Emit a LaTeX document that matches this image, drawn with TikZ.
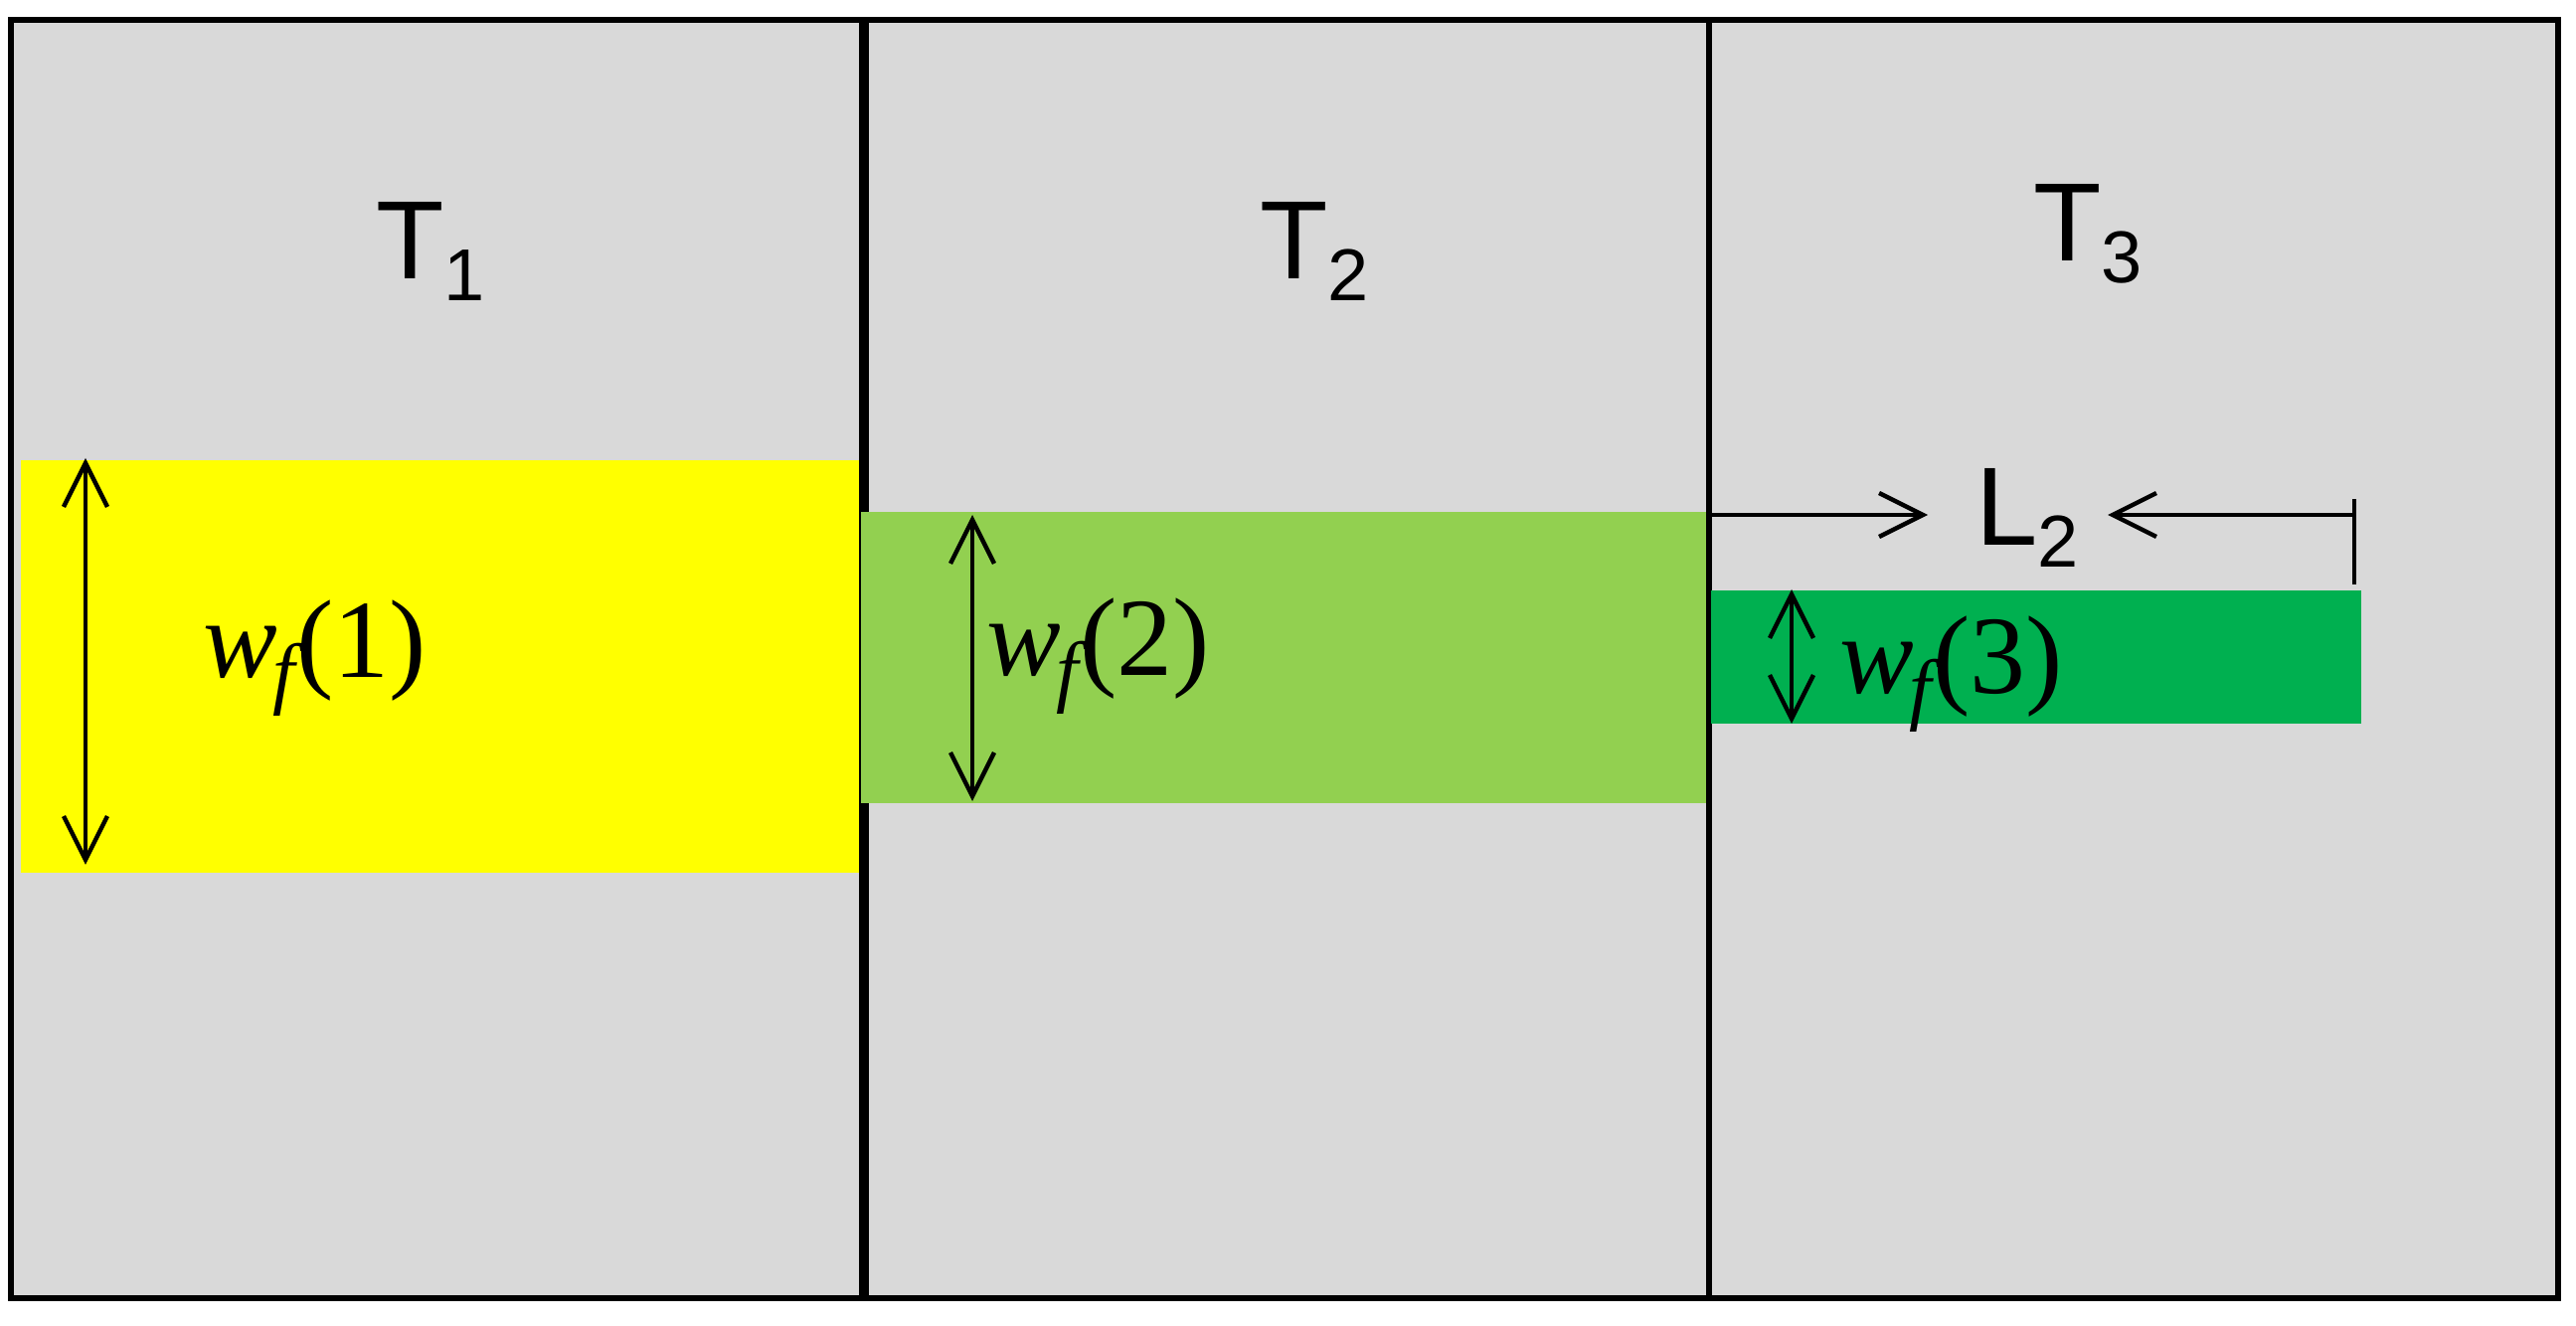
\documentclass[tikz,border=0pt]{standalone}
\usepackage{fontspec}
\setmainfont{Liberation Serif}
\setsansfont{Liberation Sans}
\usetikzlibrary{arrows.meta}

\definecolor{cellgray}{HTML}{D9D9D9}
\definecolor{bandyellow}{HTML}{FFFF00}
\definecolor{bandlight}{HTML}{92D050}
\definecolor{banddark}{HTML}{00B050}

\newcommand{\tlabel}[2]{{\fontsize{28}{30}\selectfont\sffamily #1\raisebox{-5.5pt}{\fontsize{18.5}{20}\selectfont #2}}}
\newcommand{\wflabel}[1]{{\fontsize{28}{30}\selectfont\textit{w}\kern-1pt\raisebox{-5.5pt}{\fontsize{20}{22}\selectfont\textit{f}}\kern-2pt(#1)}}

\tikzset{
  every picture/.style={line width=1.1pt},
  dimarrow/.style={-{Straight Barb[length=11pt,width=11pt]}},
  dimboth/.style={{Straight Barb[length=11pt,width=11pt]}-{Straight Barb[length=11pt,width=11pt]}},
  txt/.style={anchor=base west,inner sep=0pt}
}

\begin{document}
\begin{tikzpicture}[x=0.25pt,y=0.25pt,yscale=-1,xscale=1]
    \useasboundingbox (0,0) rectangle (2591,1334);

    %Shape: Rectangle (cells)
    \fill [cellgray] (11,20) rectangle (2573,1306);
    %Straight Lines (dividers)
    \draw [line width=2.7pt] (869,20) -- (869,1306);
    \draw [line width=1.3pt] (1719,20) -- (1719,1306);

    %Shape: Rectangle (bands)
    \fill [bandyellow] (21,463) rectangle (864,878);
    \fill [bandlight] (866,515) rectangle (1716,808);
    \fill [banddark] (1721,594) rectangle (2375,728);

    %Shape: Rectangle (frame)
    \draw [line width=1.6pt] (11,20) rectangle (2573,1306);

    % Text Node
    \node [txt] (t1) at (376,281) {\tlabel{T}{1}};
    % Text Node
    \node [txt] (t2) at (1265,281) {\tlabel{T}{2}};
    % Text Node
    \node [txt] (t3) at (2043,263) {\tlabel{T}{3}};
    % Text Node
    \node [txt] (l2) at (1985,549) {\tlabel{L}{2}};

    % Text Node
    \node [txt] (wf1) at (202,682) {\wflabel{1}};
    % Text Node
    \node [txt] (wf2) at (990,680) {\wflabel{2}};
    % Text Node
    \node [txt] (wf3) at (1848,698) {\wflabel{3}};

    %Straight Lines (widths)
    \coordinate (w1top) at (86,461);
    \coordinate (w1bot) at (86,870);
    \coordinate (w2top) at (978,518);
    \coordinate (w2bot) at (978,806);
    \coordinate (w3top) at (1802,593);
    \coordinate (w3bot) at (1802,728);
    \draw [dimboth] (w1top) -- (w1bot);
    \draw [dimboth] (w2top) -- (w2bot);
    \draw [dimboth] (w3top) -- (w3bot);

    %Straight Lines (length)
    \coordinate (lstart) at (1720,518);
    \coordinate (ltipl) at (1939,518);
    \coordinate (lend) at (2368,518);
    \coordinate (ltipr) at (2120,518);
    \coordinate (barup) at (2368,502);
    \coordinate (bardown) at (2368,588);
    \draw [dimarrow] (lstart) -- (ltipl);
    \draw [dimarrow] (lend) -- (ltipr);
    \draw (barup) -- (bardown);

\end{tikzpicture}
\end{document}
